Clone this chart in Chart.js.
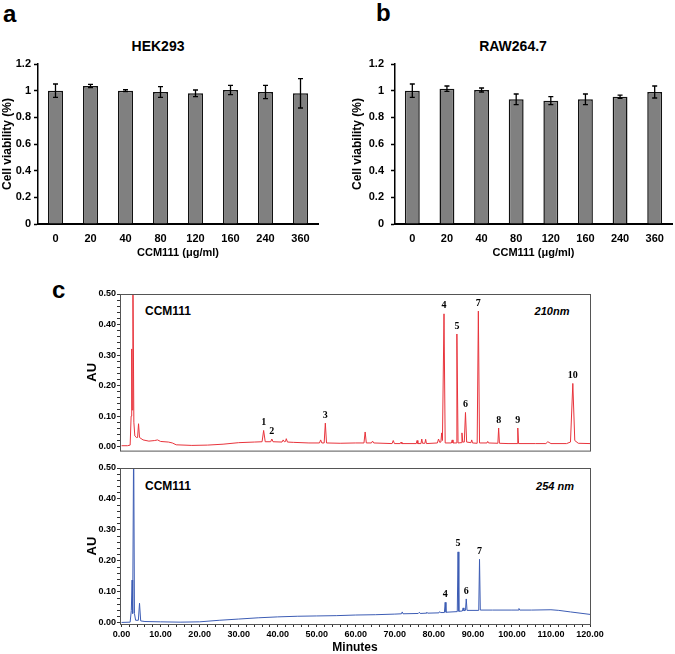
<!DOCTYPE html>
<html>
<head>
<meta charset="utf-8">
<script src="https://cdn.jsdelivr.net/npm/chart.js@4.4.1/dist/chart.umd.min.js"></script>
<style>
body { margin: 0; background: #fff; width: 675px; height: 654px; position: relative; overflow: hidden; font-family: Arial, "Liberation Sans", sans-serif; }
canvas { position: absolute; }
.lbl { position: absolute; font-weight: bold; white-space: nowrap; line-height: 1; color: #000; }
.mid { transform: translate(-50%, -50%); }
</style>
</head>
<body>
<!-- panel letters and titles -->
<div class="lbl" style="left:3px;top:2px;font-size:24px">a</div>
<div class="lbl" style="left:376px;top:1px;font-size:24px">b</div>
<div class="lbl" style="left:52px;top:278px;font-size:24px">c</div>
<div class="lbl mid" style="left:158px;top:46px;font-size:14px">HEK293</div>
<div class="lbl mid" style="left:513px;top:46px;font-size:14px">RAW264.7</div>
<div class="lbl" style="left:145px;top:305px;font-size:12px">CCM111</div>
<div class="lbl mid" style="left:552px;top:311px;font-size:11px;font-style:italic">210nm</div>
<div class="lbl" style="left:145px;top:480px;font-size:12px">CCM111</div>
<div class="lbl mid" style="left:555px;top:486px;font-size:11px;font-style:italic">254 nm</div>

<canvas id="hekChart" width="330" height="260" style="left:0;top:0"></canvas>
<canvas id="rawChart" width="325" height="260" style="left:350px;top:0"></canvas>
<canvas id="uv210Chart" width="620" height="172" style="left:55px;top:285px"></canvas>
<canvas id="uv254Chart" width="620" height="194" style="left:55px;top:460px"></canvas>

<script>
// --- viability data (a, b) ---
const doses = ['0', '20', '40', '80', '120', '160', '240', '360'];
const hekMean = [1.0, 1.035, 1.0, 0.99, 0.98, 1.005, 0.99, 0.98];
const hekErr = [0.05, 0.012, 0.007, 0.04, 0.025, 0.035, 0.05, 0.11];
const rawMean = [1.0, 1.015, 1.005, 0.935, 0.925, 0.935, 0.955, 0.99];
const rawErr = [0.05, 0.02, 0.015, 0.04, 0.03, 0.04, 0.012, 0.045];
const viabilityTicks = [0, 0.2, 0.4, 0.6, 0.8, 1, 1.2];
const viabilityLabels = ['0', '0.2', '0.4', '0.6', '0.8', '1', '1.2'];

// --- HPLC traces (c), time in minutes and absorbance in AU ---
const uv210Time = [0, 1.5, 2.2, 2.45, 2.6, 2.72, 2.9, 3.15, 3.4, 3.8, 4.1, 4.35, 4.6, 5.5, 7, 8.5, 9.2, 10, 12, 13, 14, 18, 22, 26, 30, 34,
  36.0, 36.4, 36.8, 38.2, 38.5, 38.8, 41.1, 41.4, 41.7, 42.0, 42.2, 42.5, 44, 48, 50.7, 51, 51.3, 51.9, 52.2, 52.5, 56, 60,
  62.1, 62.4, 62.7, 64.0, 64.3, 64.6, 69.3, 69.6, 69.9, 71.4, 71.6, 71.8, 75.5, 75.7, 75.9, 76.7, 76.9, 77.1, 77.7, 77.9, 78.1,
  80.9, 81.2, 81.5, 81.8, 82.0, 82.2, 82.6, 82.9, 84.5, 84.7, 84.9, 85.7, 85.9, 86.2, 87.0, 87.2, 87.4, 87.8, 88.1, 88.4,
  89.5, 89.7, 89.9, 91.1, 91.4, 91.7, 93.6, 93.8, 94.0, 96.4, 96.6, 96.8, 99, 101.3, 101.5, 101.7, 106, 108.7, 109.2, 110,
  114, 115.0, 115.6, 116.1, 117, 120];
const uv210AU = [0.003, 0.003, 0.005, 0.10, 0.32, 0.12, 0.60, 0.08, 0.035, 0.03, 0.03, 0.075, 0.03, 0.022, 0.018, 0.02, 0.022, 0.017, 0.015, 0.012, 0.006, 0.004, 0.005, 0.008, 0.013, 0.015,
  0.016, 0.053, 0.016, 0.016, 0.025, 0.016, 0.015, 0.022, 0.016, 0.017, 0.026, 0.015, 0.014, 0.012, 0.012, 0.022, 0.012, 0.012, 0.077, 0.012, 0.011, 0.012,
  0.012, 0.048, 0.012, 0.012, 0.018, 0.012, 0.01, 0.02, 0.01, 0.01, 0.015, 0.01, 0.01, 0.02, 0.01, 0.01, 0.025, 0.011, 0.011, 0.024, 0.01,
  0.012, 0.025, 0.014, 0.015, 0.045, 0.02, 0.435, 0.012, 0.012, 0.022, 0.012, 0.012, 0.369, 0.012, 0.013, 0.045, 0.015, 0.015, 0.112, 0.015,
  0.013, 0.022, 0.012, 0.011, 0.444, 0.012, 0.012, 0.017, 0.012, 0.011, 0.061, 0.011, 0.01, 0.01, 0.061, 0.01, 0.01, 0.01, 0.016, 0.01,
  0.01, 0.015, 0.207, 0.02, 0.011, 0.01];

const uv254Time = [0, 2.2, 2.5, 2.7, 2.85, 3.1, 3.3, 3.6, 4.3, 4.6, 4.9, 6, 10, 15, 20, 25, 30, 35, 40, 45, 50, 55, 60, 65, 70,
  71.7, 71.9, 72.1, 76, 76.3, 76.5, 78, 78.2, 78.4, 81.3, 81.5, 81.7, 82.7, 82.9, 83.1, 86.0, 86.2, 86.4, 87.3, 87.5, 87.7,
  88.1, 88.3, 88.5, 91.5, 91.7, 91.9, 95, 100, 101.6, 101.8, 102.0, 105, 110, 112, 115, 120];
const uv254AU = [0.001, 0.002, 0.04, 0.138, 0.03, 0.6, 0.03, 0.008, 0.008, 0.063, 0.006, 0.004, 0.003, 0.002, 0.003, 0.008, 0.012, 0.016, 0.019, 0.021, 0.022, 0.023, 0.025, 0.026, 0.028,
  0.029, 0.035, 0.029, 0.030, 0.034, 0.030, 0.031, 0.034, 0.031, 0.032, 0.036, 0.033, 0.033, 0.066, 0.034, 0.036, 0.229, 0.037, 0.038, 0.048, 0.039,
  0.040, 0.077, 0.040, 0.040, 0.205, 0.041, 0.041, 0.041, 0.041, 0.046, 0.041, 0.041, 0.042, 0.040, 0.035, 0.027];

// numbered peaks
const peaks210Label = ['1', '2', '3', '4', '5', '6', '7', '8', '9', '10'];
const peaks210Time = [36.4, 38.5, 52.2, 82.6, 85.9, 88.1, 91.4, 96.6, 101.5, 115.6];
const peaks210AU = [0.053, 0.025, 0.077, 0.435, 0.369, 0.112, 0.444, 0.061, 0.061, 0.207];
const peaks254Label = ['4', '5', '6', '7'];
const peaks254Time = [82.9, 86.2, 88.3, 91.7];
const peaks254AU = [0.066, 0.229, 0.077, 0.205];

const auMajor = [0, 0.1, 0.2, 0.3, 0.4, 0.5];
const auLabels = ['0.00', '0.10', '0.20', '0.30', '0.40', '0.50'];
const minuteMajor = [0, 10, 20, 30, 40, 50, 60, 70, 80, 90, 100, 110, 120];
const minuteLabels = ['0.00', '10.00', '20.00', '30.00', '40.00', '50.00', '60.00', '70.00', '80.00', '90.00', '100.00', '110.00', '120.00'];

const boldFont = size => ({ family: 'Arial, "Liberation Sans", sans-serif', weight: 'bold', size: size });

// error bars on top of each bar
function errorBarPlugin(means, errs) {
    return {
        id: 'errorBars',
        afterDatasetsDraw(chart) {
            const ctx = chart.ctx;
            const y = chart.scales.y;
            const bars = chart.getDatasetMeta(0).data;
            ctx.save();
            ctx.strokeStyle = '#000';
            ctx.lineWidth = 1.3;
            bars.forEach((bar, i) => {
                const top = y.getPixelForValue(means[i] + errs[i]);
                const bot = y.getPixelForValue(means[i] - errs[i]);
                ctx.beginPath();
                ctx.moveTo(bar.x, top); ctx.lineTo(bar.x, bot);
                ctx.moveTo(bar.x - 2.5, top); ctx.lineTo(bar.x + 2.5, top);
                ctx.moveTo(bar.x - 2.5, bot); ctx.lineTo(bar.x + 2.5, bot);
                ctx.stroke();
            });
            ctx.restore();
        }
    };
}

function viabilityChart(id, means, errs, yWidth, tickPad, rightPad) {
    return new Chart(document.getElementById(id), {
        type: 'bar',
        data: {
            labels: doses,
            datasets: [{
                data: means,
                backgroundColor: '#808080',
                borderColor: '#111',
                borderWidth: 1.5,
                barPercentage: 0.43,
                categoryPercentage: 1
            }]
        },
        options: {
            responsive: false,
            animation: false,
            layout: { padding: { top: 64, left: 0, right: rightPad, bottom: 0 } },
            plugins: { legend: { display: false }, tooltip: { enabled: false } },
            scales: {
                x: {
                    grid: { display: false, drawTicks: false },
                    border: { color: '#000', width: 2 },
                    ticks: { color: '#000', font: boldFont(11), padding: 8 },
                    title: { display: true, text: 'CCM111 (μg/ml)', color: '#000', font: boldFont(11), padding: 0 },
                    afterFit: s => { s.height = 36; }
                },
                y: {
                    min: 0, max: 1.2,
                    afterBuildTicks: s => { s.ticks = viabilityTicks.map(v => ({ value: v })); },
                    grid: { drawOnChartArea: false, tickLength: 4, tickColor: '#000', tickWidth: 1.5 },
                    border: { color: '#000', width: 1.5 },
                    ticks: { color: '#000', font: boldFont(11), padding: tickPad, callback: (v, i) => viabilityLabels[i] },
                    title: { display: true, text: 'Cell viability (%)', color: '#000', font: boldFont(12), padding: 0 },
                    afterFit: s => { s.width = yWidth; }
                }
            }
        },
        plugins: [errorBarPlugin(means, errs)]
    });
}

viabilityChart('hekChart', hekMean, hekErr, 38, 3, 12);
viabilityChart('rawChart', rawMean, rawErr, 45, 7, 3);

// box round the plot area plus numbered peak labels
function hplcPlugin(times, heights, labels) {
    return {
        id: 'hplcDecor',
        afterDatasetsDraw(chart) {
            const { ctx, chartArea: a, scales } = chart;
            ctx.save();
            ctx.strokeStyle = '#555';
            ctx.lineWidth = 1;
            ctx.strokeRect(a.left + 0.5, a.top + 0.5, a.right - a.left, a.bottom - a.top);
            ctx.fillStyle = '#000';
            ctx.font = 'bold 10px "Liberation Serif", "DejaVu Serif", serif';
            ctx.textAlign = 'center';
            ctx.textBaseline = 'bottom';
            labels.forEach((txt, i) => {
                ctx.fillText(txt, scales.x.getPixelForValue(times[i]), scales.y.getPixelForValue(heights[i]) - 3);
            });
            ctx.restore();
        }
    };
}

function auTicks() {
    const t = [];
    for (let v = 0; v <= 50; v += 2) t.push({ value: v / 100 });
    return t;
}
function minuteTicks() {
    const t = [];
    for (let v = 0; v <= 120; v += 2) t.push({ value: v });
    return t;
}

function hplcChart(id, times, values, color, yMin, showX, padTop, peakPlugin) {
    return new Chart(document.getElementById(id), {
        type: 'line',
        data: {
            datasets: [{
                data: times.map((t, i) => ({ x: t, y: values[i] })),
                borderColor: color,
                borderWidth: 1,
                pointRadius: 0,
                tension: 0,
                fill: false
            }]
        },
        options: {
            responsive: false,
            animation: false,
            layout: { padding: { top: padTop, left: 30, right: 85, bottom: showX ? 0 : 6 } },
            plugins: { legend: { display: false }, tooltip: { enabled: false } },
            scales: {
                x: {
                    type: 'linear',
                    min: -0.4, max: 120,
                    display: showX,
                    afterBuildTicks: s => { s.ticks = minuteTicks(); },
                    grid: { drawOnChartArea: false, tickLength: 3, tickColor: '#333' },
                    border: { color: '#333', width: 1 },
                    ticks: {
                        autoSkip: false, maxRotation: 0, color: '#000', font: boldFont(9), padding: 2,
                        callback: v => { const k = minuteMajor.indexOf(v); return k >= 0 ? minuteLabels[k] : ''; }
                    },
                    title: { display: true, text: 'Minutes', color: '#000', font: { family: 'Arial, "Liberation Sans", sans-serif', weight: 'bold', size: 12, lineHeight: 1 }, padding: 0 },
                    afterFit: s => { s.height = showX ? 30 : 0; }
                },
                y: {
                    min: yMin, max: 0.5,
                    afterBuildTicks: s => { s.ticks = auTicks(); },
                    grid: { drawOnChartArea: false, tickLength: 3, tickColor: '#333' },
                    border: { color: '#333', width: 1 },
                    ticks: {
                        autoSkip: false, color: '#000', font: boldFont(9), padding: 1,
                        callback: v => { const k = auMajor.findIndex(m => Math.abs(m - v) < 1e-6); return k >= 0 ? auLabels[k] : ''; }
                    },
                    title: { display: true, text: 'AU', color: '#000', font: boldFont(13), padding: 0 },
                    afterFit: s => { s.width = 35; }
                }
            }
        },
        plugins: [peakPlugin]
    });
}

hplcChart('uv210Chart', uv210Time, uv210AU, '#e8343c', -0.013, false, 9, hplcPlugin(peaks210Time, peaks210AU, peaks210Label));
hplcChart('uv254Chart', uv254Time, uv254AU, '#3c5cb4', -0.004, true, 8, hplcPlugin(peaks254Time, peaks254AU, peaks254Label));
</script>
</body>
</html>
